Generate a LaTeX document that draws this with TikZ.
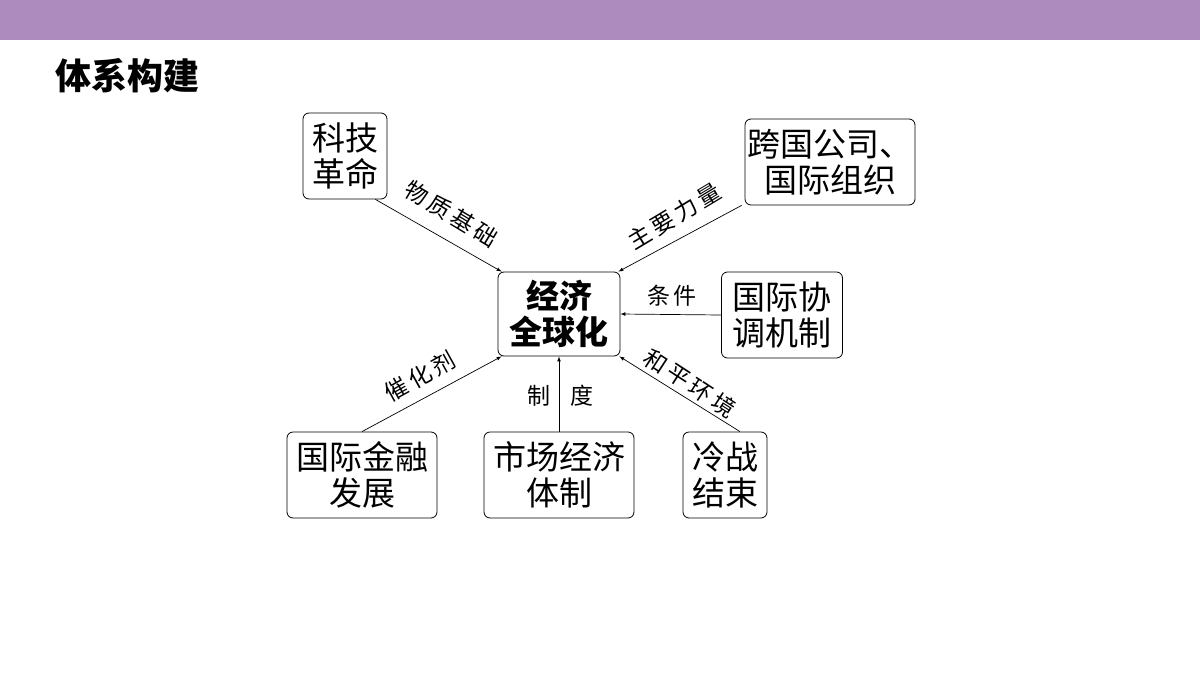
\documentclass[tikz,border=0pt]{standalone}
\usepackage{fontspec}
\setmainfont{Noto Sans CJK SC}
\begin{document}
\begin{tikzpicture}[x=1pt,y=-1pt,
  bx/.style={draw,rounded corners=6pt,line width=0.8pt,inner sep=0pt,align=center,font=\fontsize{33}{36}\selectfont},
  lab/.style={font=\fontsize{23}{25}\selectfont,inner sep=1pt},
  arr/.style={-latex,line width=0.7pt}]
\useasboundingbox (0,0) rectangle (1200,675);
\fill[fill={rgb,255:red,174;green,139;blue,190}] (0,0) rectangle (1200,40);
\node[anchor=west,font=\fontsize{36}{38}\selectfont\bfseries] (title) at (52,76) {体系构建};
\node[bx,minimum width=84,minimum height=86] (a) at (345,156) {科技\\革命};
\node[bx,minimum width=170,minimum height=86] (b) at (830,162) {跨国公司、\\国际组织};
\node[bx,minimum width=122,minimum height=84,font=\fontsize{33}{36}\selectfont\bfseries] (c) at (559,314) {经济\\全球化};
\node[bx,minimum width=121,minimum height=86] (d) at (782,315) {国际协\\调机制};
\node[bx,minimum width=150,minimum height=86] (e) at (362,475) {国际金融\\发展};
\node[bx,minimum width=150,minimum height=86] (f) at (559,475) {市场经济\\体制};
\node[bx,minimum width=84,minimum height=86] (g) at (725,475) {冷战\\结束};
\draw[arr] ([xshift=-12pt]a.south east) -- ([xshift=4pt]c.north west);
\draw[arr] ([xshift=-3pt]b.south west) -- ([xshift=-2pt]c.north east);
\draw[arr] (d.west) -- (c.east);
\draw[arr] (e.north) -- ([xshift=4pt]c.south west);
\draw[arr] (f.north) -- (c.south);
\draw[arr] ([xshift=15pt]g.north) -- ([xshift=-1pt]c.south east);
\node[lab,rotate=-31] (l1) at (451,214) {物\,质\,基\,础};
\node[lab,rotate=31] (l2) at (674,216) {主\,要\,力\,量};
\node[lab] (l3) at (672,296) {条\,件};
\node[lab,rotate=29] (l4) at (420,376) {催\,化\,剂};
\node[lab] (l5) at (539,396) {制};
\node[lab] (l6) at (582,396) {度};
\node[lab,rotate=-33] (l7) at (690,383) {和\,平\,环\,境};
\end{tikzpicture}
\end{document}
